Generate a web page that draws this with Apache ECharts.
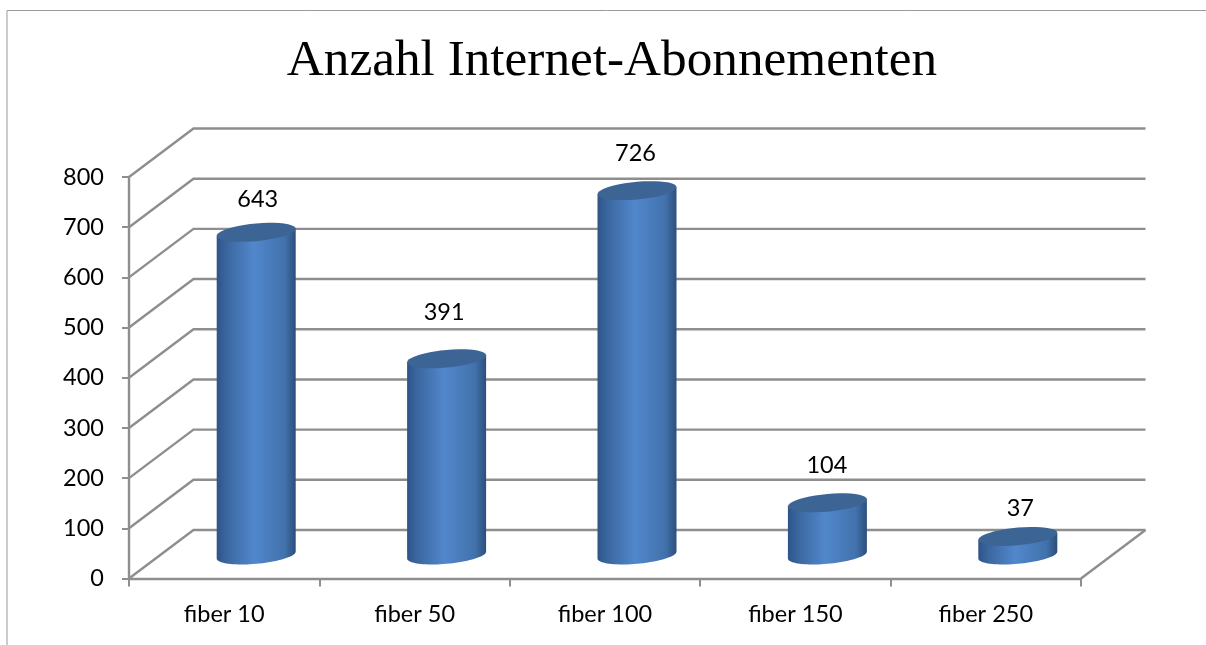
<!DOCTYPE html>
<html>
<head>
<meta charset="utf-8">
<style>html,body{margin:0;padding:0;background:#fff}#c{width:1206px;height:645px}</style>
<script src="https://cdn.jsdelivr.net/npm/echarts@6/dist/echarts.min.js"></script>
</head>
<body>
<div id="c"></div>
<script>
const chartTitle = 'Anzahl Internet-Abonnementen';
const categories = ['fiber 10', 'fiber 50', 'fiber 100', 'fiber 150', 'fiber 250'];
const subscribers = [643, 391, 726, 104, 37];
const valueTicks = [0, 100, 200, 300, 400, 500, 600, 700, 800];

const GREY = '#8e8e8e';
const DEPTH = [64.5, -48.5];
const BAR_SHIFT = [32, -23.5];
const RX = 39.5, RY = 9.5, TILT = 3.5;
const LABEL_LIFT = [33, 47, 38, 38, 29];
const LABEL_NUDGE = [0, -4, -3, -2, 1];
const FONT = 'Lato';

function ellipsePts(cx, cy, from, to) {
  const phi = Math.acos(-TILT / RY), pts = [], n = 40;
  for (let i = 0; i <= n; i++) {
    const t = from + (to - from) * i / n;
    pts.push([cx + RX * Math.cos(t), cy + RY * Math.cos(t + phi)]);
  }
  return pts;
}

function renderWall(params, api) {
  const cs = params.coordSys;
  const p = api.coord([0, api.value(1)]);
  const y = p[1], x0 = cs.x, x1 = cs.x + cs.width;
  const style = { fill: null, stroke: GREY, lineWidth: 2.4 };
  const children = [{
    type: 'polyline', silent: true,
    shape: { points: [[x0, y], [x0 + DEPTH[0], y + DEPTH[1]], [x1 + DEPTH[0], y + DEPTH[1]]] },
    style
  }];
  if (api.value(1) === 0) {
    children.push({
      type: 'polyline', silent: true,
      shape: { points: [[x1, y], [x1 + DEPTH[0], y + DEPTH[1]]] },
      style
    });
  }
  return { type: 'group', children };
}

function renderCylinder(params, api) {
  const i = api.value(0), v = api.value(1);
  const base = api.coord([i, 0]), top = api.coord([i, v]);
  const cx = base[0] + BAR_SHIFT[0];
  const by = base[1] + BAR_SHIFT[1], ty = top[1] + BAR_SHIFT[1];
  // whichever half of the base ellipse hangs lower on the page forms the visible edge
  const a = ellipsePts(cx, by, 0, Math.PI), b = ellipsePts(cx, by, Math.PI, 2 * Math.PI);
  const avg = l => l.reduce((s, q) => s + q[1], 0) / l.length;
  const bottomArc = (avg(a) > avg(b) ? a : b).slice().sort((m, n) => m[0] - n[0]);
  const body = [[cx - RX, ty + TILT]].concat(bottomArc, [[cx + RX, ty - TILT]]);
  const cap = ellipsePts(cx, ty, 0, 2 * Math.PI);
  return {
    type: 'group',
    children: [
      {
        type: 'polygon', silent: true,
        shape: { points: body },
        style: {
          fill: new echarts.graphic.LinearGradient(0, 0, 1, 0, [
            { offset: 0, color: '#2d5488' },
            { offset: 0.12, color: '#3a669e' },
            { offset: 0.47, color: '#5187cc' },
            { offset: 0.86, color: '#4272ac' },
            { offset: 1, color: '#2c4f7c' }
          ])
        }
      },
      { type: 'polygon', silent: true, shape: { points: cap }, style: { fill: '#3c6596' } },
      {
        type: 'text', silent: true,
        style: {
          text: String(v), x: cx + 1.5 + LABEL_NUDGE[i], y: ty - LABEL_LIFT[i] + 0.5,
          fill: '#000', font: '23.5px ' + FONT, align: 'center', verticalAlign: 'middle'
        }
      }
    ]
  };
}

const chart = echarts.init(document.getElementById('c'), null, { renderer: 'canvas' });
chart.setOption({
  animation: false,
  backgroundColor: '#fff',
  title: {
    text: chartTitle, left: 607, top: 31, textAlign: 'center',
    textStyle: { fontFamily: 'Liberation Serif', fontWeight: 'normal', fontSize: 51.25, color: '#000' }
  },
  graphic: [{
    type: 'polyline', silent: true,
    shape: { points: [[7, 645], [7, 10.5], [1206, 10.5]] },
    style: { fill: null, stroke: '#9a9a9a', lineWidth: 1 }
  }],
  grid: { left: 129, top: 177, width: 952, height: 401.5, containLabel: false },
  xAxis: {
    type: 'category', data: categories,
    axisLine: { onZero: false, lineStyle: { color: GREY, width: 2.4 } },
    axisTick: { show: true, length: 8, lineStyle: { color: GREY, width: 2 } },
    axisLabel: { color: '#000', fontFamily: FONT, fontSize: 23.5, margin: 24 },
    splitLine: { show: false }
  },
  yAxis: {
    type: 'value', min: 0, max: 800, interval: 100,
    axisLine: { show: true, lineStyle: { color: GREY, width: 2.4 } },
    axisTick: { show: true, length: 7, lineStyle: { color: GREY, width: 2 } },
    axisLabel: { color: '#000', fontFamily: FONT, fontSize: 23.5, margin: 25, padding: [5, 0, 0, 0] },
    splitLine: { show: false }
  },
  series: [
    {
      type: 'custom', name: 'walls', clip: false, z: 1, silent: true,
      renderItem: renderWall,
      encode: { x: 0, y: 1 },
      data: valueTicks.map(t => [0, t])
    },
    {
      type: 'custom', name: 'Anzahl', clip: false, z: 3, silent: true,
      renderItem: renderCylinder,
      encode: { x: 0, y: 1 },
      data: subscribers.map((v, i) => [i, v])
    }
  ]
});
</script>
</body>
</html>
